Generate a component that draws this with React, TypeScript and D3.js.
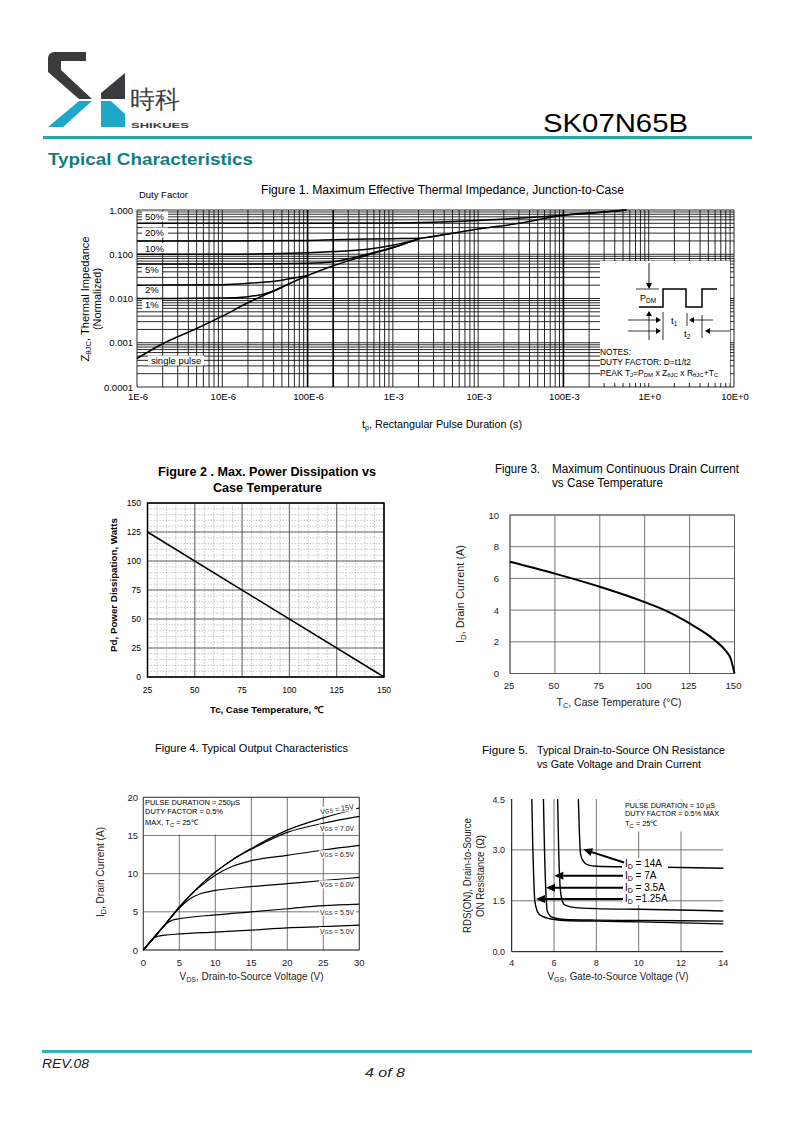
import React, { useEffect } from 'react';
import * as d3 from 'd3';

const FONT = "'Liberation Sans', Arial, Helvetica, sans-serif";

// ---------------- Figure 1 data ----------------
const f1XTickValues = [1e-6, 1e-5, 1e-4, 1e-3, 1e-2, 1e-1, 1, 10];
const f1XTickLabels = ['1E-6', '10E-6', '100E-6', '1E-3', '10E-3', '100E-3', '1E+0', '10E+0'];
const f1YTickValues = [1, 0.1, 0.01, 0.001, 0.0001];
const f1YTickLabels = ['1.000', '0.100', '0.010', '0.001', '0.0001'];
const dutyLabels = ['50%', '20%', '10%', '5%', '2%', '1%', 'single pulse'];
const zSingle: [number, number][] = [[1e-6, 4.4e-4], [2e-6, 9.5e-4], [5e-6, 2.1e-3], [1e-5, 4.0e-3], [2e-5, 8.0e-3], [5e-5, 1.8e-2], [1e-4, 3.3e-2], [2e-4, 5.5e-2], [5e-4, 9.5e-2], [1e-3, 0.14], [2e-3, 0.22], [5e-3, 0.3], [1e-2, 0.37], [3e-2, 0.5], [1e-1, 0.76], [3e-1, 0.9], [5.5e-1, 1.0]];
const z50: [number, number][] = [[1e-6, 0.5], [1e-4, 0.5], [1e-3, 0.51], [1e-2, 0.58], [3e-2, 0.65], [1e-1, 0.76], [3e-1, 0.9], [5.5e-1, 1.0]];
const z20: [number, number][] = [[1e-6, 0.2], [1e-5, 0.2], [1e-4, 0.205], [2e-4, 0.212], [5e-4, 0.22], [1e-3, 0.225], [2e-3, 0.23], [5e-3, 0.3]];
const z10: [number, number][] = [[1e-6, 0.1], [1e-5, 0.1], [1e-4, 0.108], [2e-4, 0.115], [5e-4, 0.13], [1e-3, 0.16], [2e-3, 0.22]];
const z05: [number, number][] = [[1e-6, 0.06], [1e-5, 0.06], [1e-4, 0.063], [2e-4, 0.068], [5e-4, 0.1], [1e-3, 0.142], [2e-3, 0.22]];
const z02: [number, number][] = [[1e-6, 0.02], [1e-5, 0.0205], [2e-5, 0.022], [5e-5, 0.026], [1e-4, 0.033]];
const z01: [number, number][] = [[1e-6, 0.01], [1e-5, 0.0102], [2e-5, 0.011], [3.5e-5, 0.0135], [5e-5, 0.018]];
const f1Series = [z50, z20, z10, z05, z02, z01, zSingle];
const f1HeavyLines = [1e-4, 2e-4, 1e-1];

// ---------------- Figure 2 data ----------------
const f2XTicks = [25, 50, 75, 100, 125, 150];
const f2YTicks = [0, 25, 50, 75, 100, 125, 150];
const pdTemp = [25, 150];
const pdWatts = [125, 0];

// ---------------- Figure 3 data ----------------
const f3XTicks = [25, 50, 75, 100, 125, 150];
const f3YTicks = [0, 2, 4, 6, 8, 10];
const idTemp = [25, 50, 75, 100, 112, 125, 135, 140, 145, 148, 150];
const idCurrent = [7.05, 6.3, 5.47, 4.5, 3.95, 3.16, 2.45, 2.0, 1.45, 0.9, 0];

// ---------------- Figure 4 data ----------------
const f4XTicks = [0, 5, 10, 15, 20, 25, 30];
const f4YTicks = [0, 5, 10, 15, 20];
const vgsLabels = ['15V', '7.0V', '6.5V', '6.0V', '5.5V', '5.0V'];
const out15: [number, number][] = [[0, 0], [1, 1.1], [2, 2.2], [3, 3.3], [5, 5.6], [7.5, 8.1], [10, 10.2], [12.5, 11.9], [15, 13.3], [20, 15.7], [25, 17.3], [30, 18.6]];
const out70: [number, number][] = [[0, 0], [1, 1.1], [2, 2.2], [3, 3.3], [5, 5.6], [7.5, 8.1], [10, 10.2], [12.5, 11.9], [15, 13.2], [20, 15.4], [25, 16.6], [30, 17.5]];
const out65: [number, number][] = [[0, 0], [1, 1.1], [2, 2.2], [3, 3.3], [5, 5.6], [7.5, 8.0], [10, 9.8], [12.5, 11.0], [15, 11.7], [20, 12.4], [25, 13.1], [30, 13.7]];
const out60: [number, number][] = [[0, 0], [1, 1.1], [2, 2.2], [3, 3.3], [5, 5.5], [6.5, 6.7], [8, 7.4], [10, 7.8], [15, 8.3], [20, 8.7], [25, 9.1], [30, 9.5]];
const out55: [number, number][] = [[0, 0], [1, 1.1], [2, 2.2], [3, 3.3], [4, 3.9], [5, 4.1], [10, 4.6], [15, 5.0], [20, 5.4], [25, 5.8], [30, 6.0]];
const out50: [number, number][] = [[0, 0], [1, 1.15], [1.5, 1.6], [2, 1.8], [3, 1.95], [5, 2.1], [10, 2.35], [15, 2.6], [20, 2.9], [25, 3.05], [30, 3.25]];
const f4Series = [out15, out70, out65, out60, out55, out50];

// ---------------- Figure 5 data ----------------
const f5XTicks = [4, 6, 8, 10, 12, 14];
const f5YTicks = [0, 1.5, 3.0, 4.5];
const f5YTickLabels = ['0.0', '1.5', '3.0', '4.5'];
const idLabels = ['ID = 14A', 'ID = 7A', 'ID = 3.5A', 'ID =1.25A'];
const r14: [number, number][] = [[7.15, 4.5], [7.2, 3.5], [7.25, 2.9], [7.35, 2.7], [7.6, 2.56], [8, 2.52], [10, 2.5], [14, 2.46]];
const r7: [number, number][] = [[6.17, 4.5], [6.22, 3.0], [6.28, 2.0], [6.35, 1.6], [6.5, 1.38], [7, 1.3], [8, 1.27], [10, 1.25], [14, 1.2]];
const r35: [number, number][] = [[5.5, 4.5], [5.55, 3.0], [5.62, 1.7], [5.68, 1.2], [5.9, 1.02], [6.5, 0.95], [8, 0.93], [10, 0.92], [14, 0.9]];
const r125: [number, number][] = [[4.95, 4.5], [5.0, 3.0], [5.05, 2.0], [5.1, 1.45], [5.3, 1.1], [5.8, 0.97], [6.5, 0.92], [8, 0.9], [10, 0.88], [14, 0.82]];
const f5Series = [r14, r7, r35, r125];

// ---------------- helpers ----------------
type TP = {
  x: number; y: number; s: number; a?: 'start' | 'middle' | 'end'; w?: string | number; len?: number;
  fill?: string; rot?: boolean; italic?: boolean; children: React.ReactNode;
};
function T({ x, y, s, a = 'start', w = 'normal', len, fill = '#000', rot = false, italic = false, children }: TP) {
  return (
    <text x={x} y={y} fontSize={s} textAnchor={a} fontWeight={w} fill={fill}
      fontStyle={italic ? 'italic' : 'normal'}
      transform={rot ? `rotate(-90 ${x} ${y})` : undefined}
      textLength={len} lengthAdjust={len ? 'spacingAndGlyphs' : undefined}>
      {children}
    </text>
  );
}

function Arrow({ x1, y1, x2, y2, w = 1, head = 6, hw = 3 }: { x1: number; y1: number; x2: number; y2: number; w?: number; head?: number; hw?: number }) {
  const ang = Math.atan2(y2 - y1, x2 - x1);
  const bx = x2 - head * Math.cos(ang);
  const by = y2 - head * Math.sin(ang);
  const px = -Math.sin(ang) * hw;
  const py = Math.cos(ang) * hw;
  return (
    <g>
      <line x1={x1} y1={y1} x2={bx} y2={by} stroke="#000" strokeWidth={w} />
      <polygon points={`${x2},${y2} ${bx + px},${by + py} ${bx - px},${by - py}`} fill="#000" />
    </g>
  );
}

// ---------------- Header ----------------
function Header() {
  const dark = '#3b3b3d';
  const teal = '#1ea7c8';
  return (
    <g>
      <path d="M48,59 Q48,52 55,52 L86,52 L86,61 L61,61 L61,70 L92,99 L79,99 L48,72 Z" fill={dark} />
      <path d="M101,93 L125,73 L125,99 L101,99 Z" fill={dark} />
      <path d="M79,101 L92,101 L63,127 L48,127 Z" fill={teal} />
      <path d="M101,101 L111,101 L125,114 L125,127 L101,127 Z" fill={teal} />
      <T x={130} y={108} s={25} fill={dark}>時科</T>
      <T x={131} y={128} s={7.5} w="bold" fill={dark} len={58}>SHIKUES</T>
      <T x={543} y={132} s={26} len={145}>SK07N65B</T>
      <line x1={43} y1={137.5} x2={752} y2={137.5} stroke="#2aa8a8" strokeWidth={3} />
      <T x={48} y={165} s={17} w="bold" fill="#117f80" len={205}>Typical Characteristics</T>
    </g>
  );
}

function Footer() {
  return (
    <g>
      <line x1={42} y1={1051.5} x2={752} y2={1051.5} stroke="#36b0b0" strokeWidth={3} />
      <T x={42} y={1068} s={13} italic len={47} fill="#222">REV.08</T>
      <T x={385} y={1076.5} s={13} italic a="middle" len={40} fill="#222">4 of 8</T>
    </g>
  );
}

// ---------------- Figure 1 ----------------
function Fig1() {
  const x = d3.scaleLog().domain([1e-6, 10]).range([137, 734]);
  const y = d3.scaleLog().domain([1e-4, 1]).range([387, 210]);
  const vLines: number[] = [];
  for (let e = -6; e <= 0; e++) for (let k = 1; k <= 9; k++) vLines.push(k * Math.pow(10, e));
  vLines.push(10);
  const hLines: number[] = [];
  for (let e = -4; e <= -1; e++) for (let k = 1; k <= 9; k++) hLines.push(k * Math.pow(10, e));
  hLines.push(1);
  const line = d3.line<[number, number]>().x(d => x(d[0])).y(d => y(d[1])).curve(d3.curveMonotoneX);
  const labelY = [217, 233, 248.5, 270, 289.5, 305, 361];
  const labelX = [145, 145, 145, 145, 145, 145, 151];
  const labelW = [22, 22, 22, 16, 16, 16, 52];
  return (
    <g>
      <T x={139} y={197.5} s={9.5} len={49}>Duty Factor</T>
      <T x={442.5} y={194} s={12} a="middle" len={363}>Figure 1. Maximum Effective Thermal Impedance, Junction-to-Case</T>
      {vLines.map((v, i) => (
        <line key={'v' + i} x1={x(v)} x2={x(v)} y1={y(1)} y2={y(1e-4)} stroke="#111" strokeWidth={0.9} />
      ))}
      {hLines.map((v, i) => (
        <line key={'h' + i} x1={x(1e-6)} x2={x(10)} y1={y(v)} y2={y(v)} stroke="#111" strokeWidth={0.9} />
      ))}
      {f1HeavyLines.map((v, i) => (
        <line key={'hv' + i} x1={x(v)} x2={x(v)} y1={y(1)} y2={y(1e-4)} stroke="#000" strokeWidth={1.6} />
      ))}
      {/* inset box */}
      <rect x={600} y={261} width={130} height={122} fill="#fff" />
      {dutyLabels.map((l, i) => (
        <g key={'dl' + i}>
          <rect x={labelX[i] - 3} y={labelY[i] - 5.5} width={labelW[i] + 4} height={10} fill="#fff" />
          <T x={labelX[i]} y={labelY[i] + 3.4} s={9.5}>{l}</T>
        </g>
      ))}
      {f1Series.map((s, i) => (
        <path key={'c' + i} d={line(s) || ''} fill="none" stroke="#000" strokeWidth={1.5} />
      ))}
      {f1YTickValues.map((v, i) => (
        <T key={'yt' + i} x={133} y={y(v) + 3.5} s={9.5} a="end">{f1YTickLabels[i]}</T>
      ))}
      {f1XTickValues.map((v, i) => (
        <T key={'xt' + i} x={x(v) + 1} y={400} s={9.5} a="middle">{f1XTickLabels[i]}</T>
      ))}
      <text x={89} y={299} fontSize={10} textAnchor="middle" transform="rotate(-90 89 299)" textLength={125} lengthAdjust="spacingAndGlyphs">
        Z<tspan fontSize={7} dy={2}>θJC</tspan><tspan dy={-2}>, Thermal Impedance</tspan>
      </text>
      <T x={101} y={299} s={10} a="middle" rot len={62}>(Normalized)</T>
      <text x={442} y={428} fontSize={10.5} textAnchor="middle" textLength={160} lengthAdjust="spacingAndGlyphs">
        t<tspan fontSize={7} dy={2}>p</tspan><tspan dy={-2}>, Rectangular Pulse Duration (s)</tspan>
      </text>
      {/* inset diagram */}
      <Arrow x1={649} y1={263} x2={649} y2={289} w={0.9} head={6} hw={3} />
      <line x1={636} y1={289} x2={659} y2={289} stroke="#000" strokeWidth={0.8} />
      <text x={640} y={301} fontSize={9}>P<tspan fontSize={6.5} dy={1.5}>DM</tspan></text>
      <polyline points="639,307 663,307 663,289 686,289 686,307 702,307 702,289 717,289" fill="none" stroke="#000" strokeWidth={1.5} />
      <Arrow x1={649} y1={340} x2={649} y2={311} w={0.8} head={5} hw={3} />
      <Arrow x1={628} y1={320} x2={661} y2={320} w={0.8} head={5} hw={3} />
      <line x1={663} y1={312} x2={663} y2={340} stroke="#000" strokeWidth={0.8} />
      <text x={671} y={324} fontSize={9.5}>t<tspan fontSize={6.5} dy={1.5}>1</tspan></text>
      <Arrow x1={713} y1={320} x2={689} y2={320} w={0.8} head={5} hw={3} />
      <line x1={687} y1={313} x2={687} y2={326} stroke="#000" strokeWidth={0.8} />
      <Arrow x1={628} y1={331} x2={661} y2={331} w={0.8} head={5} hw={3} />
      <text x={684} y={337} fontSize={9.5}>t<tspan fontSize={6.5} dy={1.5}>2</tspan></text>
      <line x1={702} y1={315} x2={702} y2={338} stroke="#000" strokeWidth={0.8} />
      <Arrow x1={730} y1={331} x2={705} y2={331} w={0.8} head={5} hw={3} />
      <T x={600} y={355} s={8.5} len={31}>NOTES:</T>
      <text x={600} y={365} fontSize={8.5} textLength={91} lengthAdjust="spacingAndGlyphs">DUTY FACTOR: D=t1/t2</text>
      <text x={600} y={375.5} fontSize={8.5}>
        PEAK T<tspan fontSize={6} dy={1.5}>J</tspan><tspan dy={-1.5}>=P</tspan><tspan fontSize={6} dy={1.5}>DM</tspan><tspan dy={-1.5}> x Z</tspan><tspan fontSize={6} dy={1.5}>θJC</tspan><tspan dy={-1.5}> x R</tspan><tspan fontSize={6} dy={1.5}>θJC</tspan><tspan dy={-1.5}>+T</tspan><tspan fontSize={6} dy={1.5}>C</tspan>
      </text>
    </g>
  );
}

// ---------------- Figure 2 ----------------
function Fig2() {
  const x = d3.scaleLinear().domain([25, 150]).range([147.5, 384]);
  const y = d3.scaleLinear().domain([0, 150]).range([677, 503]);
  const minorX = d3.range(25, 151, 5);
  const minorY = d3.range(0, 151, 5);
  const line = d3.line<number>().x((_, i) => x(pdTemp[i])).y((_, i) => y(pdWatts[i]));
  return (
    <g>
      <T x={267} y={476} s={13} w="bold" a="middle" len={218}>Figure 2 . Max. Power Dissipation vs</T>
      <T x={267.5} y={492} s={13} w="bold" a="middle" len={109}>Case Temperature</T>
      {minorX.map((v, i) => <line key={'mx' + i} x1={x(v)} x2={x(v)} y1={y(150)} y2={y(0)} stroke="#a0a0a0" strokeWidth={0.6} strokeDasharray="1.5,1.5" />)}
      {minorY.map((v, i) => <line key={'my' + i} x1={x(25)} x2={x(150)} y1={y(v)} y2={y(v)} stroke="#a0a0a0" strokeWidth={0.6} strokeDasharray="1.5,1.5" />)}
      {f2XTicks.map((v, i) => <line key={'Mx' + i} x1={x(v)} x2={x(v)} y1={y(150)} y2={y(0)} stroke="#444" strokeWidth={0.8} />)}
      {f2YTicks.map((v, i) => <line key={'My' + i} x1={x(25)} x2={x(150)} y1={y(v)} y2={y(v)} stroke="#444" strokeWidth={0.8} />)}
      <rect x={x(25)} y={y(150)} width={x(150) - x(25)} height={y(0) - y(150)} fill="none" stroke="#000" strokeWidth={1.5} />
      <path d={line(pdWatts) || ''} fill="none" stroke="#000" strokeWidth={1.5} />
      {f2XTicks.map((v, i) => <T key={'xt' + i} x={x(v)} y={692.5} s={8.5} a="middle">{v}</T>)}
      {f2YTicks.map((v, i) => <T key={'yt' + i} x={141} y={y(v) + 3} s={8.5} a="end">{v}</T>)}
      <T x={116.5} y={585} s={9.5} w="bold" a="middle" rot len={134}>Pd, Power Dissipation, Watts</T>
      <T x={266.5} y={712.5} s={9.5} w="bold" a="middle" len={113}>Tc, Case Temperature, ℃</T>
    </g>
  );
}

// ---------------- Figure 3 ----------------
function Fig3() {
  const x = d3.scaleLinear().domain([25, 150]).range([510, 734.5]);
  const y = d3.scaleLinear().domain([0, 10]).range([673.5, 515]);
  const line = d3.line<number>().x((_, i) => x(idTemp[i])).y((_, i) => y(idCurrent[i])).curve(d3.curveMonotoneX);
  return (
    <g>
      <T x={495} y={472.5} s={12} len={45}>Figure 3.</T>
      <T x={552} y={472.5} s={12} len={187}>Maximum Continuous Drain Current</T>
      <T x={552} y={486.5} s={12} len={111}>vs Case Temperature</T>
      {f3XTicks.map((v, i) => <line key={'gx' + i} x1={x(v)} x2={x(v)} y1={y(10)} y2={y(0)} stroke="#555" strokeWidth={0.8} />)}
      {f3YTicks.map((v, i) => <line key={'gy' + i} x1={x(25)} x2={x(150)} y1={y(v)} y2={y(v)} stroke="#555" strokeWidth={0.8} />)}
      <rect x={x(25)} y={y(10)} width={x(150) - x(25)} height={y(0) - y(10)} fill="none" stroke="#555" strokeWidth={0.9} />
      <path d={line(idCurrent) || ''} fill="none" stroke="#000" strokeWidth={2} />
      {f3XTicks.map((v, i) => <T key={'xt' + i} x={x(v) - 1} y={689} s={9.5} a="middle" fill="#222">{v}</T>)}
      {f3YTicks.map((v, i) => <T key={'yt' + i} x={499} y={y(v) + 3.5} s={9.5} a="end" fill="#222">{v}</T>)}
      <text x={463.5} y={594} fontSize={10.5} textAnchor="middle" fill="#222" transform="rotate(-90 463.5 594)" textLength={98} lengthAdjust="spacingAndGlyphs">
        I<tspan fontSize={7.5} dy={2}>D</tspan><tspan dy={-2}>, Drain Current (A)</tspan>
      </text>
      <text x={619} y={705.5} fontSize={10.5} textAnchor="middle" fill="#222" textLength={125} lengthAdjust="spacingAndGlyphs">
        T<tspan fontSize={7.5} dy={2}>C</tspan><tspan dy={-2}>, Case Temperature (°C)</tspan>
      </text>
    </g>
  );
}

// ---------------- Figure 4 ----------------
function Fig4() {
  const x = d3.scaleLinear().domain([0, 30]).range([143.3, 359.3]);
  const y = d3.scaleLinear().domain([0, 20]).range([950, 797.3]);
  const line = d3.line<[number, number]>().x(d => x(d[0])).y(d => y(d[1])).curve(d3.curveMonotoneX);
  const labY = [809, 828.3, 854.3, 884.3, 911.7, 931];
  return (
    <g>
      <T x={251.5} y={752} s={11} a="middle" len={193}>Figure 4. Typical Output Characteristics</T>
      {f4XTicks.map((v, i) => <line key={'gx' + i} x1={x(v)} x2={x(v)} y1={y(20)} y2={y(0)} stroke="#555" strokeWidth={0.8} />)}
      {f4YTicks.map((v, i) => <line key={'gy' + i} x1={x(0)} x2={x(30)} y1={y(v)} y2={y(v)} stroke="#555" strokeWidth={0.8} />)}
      <rect x={x(0) + 0.6} y={y(20) + 0.6} width={101} height={y(15) - y(20) - 1.6} fill="#fff" />
      <rect x={x(0)} y={y(20)} width={x(30) - x(0)} height={y(0) - y(20)} fill="none" stroke="#444" strokeWidth={0.9} />
      {f4Series.map((s, i) => <path key={'c' + i} d={line(s) || ''} fill="none" stroke="#000" strokeWidth={1.2} />)}
      {vgsLabels.map((l, i) => (
        <g key={'vl' + i} transform={i === 0 ? `rotate(-9 337 ${labY[i]})` : undefined}>
          <rect x={319} y={labY[i] - 4} width={37} height={8} fill="#fff" />
          <text x={320} y={labY[i] + 2.8} fontSize={7.5} textLength={34} lengthAdjust="spacingAndGlyphs" fill="#222">
            V<tspan fontSize={6}>GS</tspan> = {l}
          </text>
        </g>
      ))}
      <T x={145} y={804.5} s={7.5} len={95}>PULSE DURATION = 250µS</T>
      <T x={145} y={814} s={7.5} len={78}>DUTY FACTOR = 0.5%</T>
      <text x={145} y={825} fontSize={7.5}>MAX, T<tspan fontSize={5.5} dy={1.5}>C</tspan><tspan dy={-1.5}> = 25℃</tspan></text>
      {f4XTicks.map((v, i) => <T key={'xt' + i} x={x(v)} y={965.5} s={9.5} a="middle" fill="#222">{v}</T>)}
      {f4YTicks.map((v, i) => <T key={'yt' + i} x={138} y={y(v) + 3.5} s={9.5} a="end" fill="#222">{v}</T>)}
      <text x={104} y={872} fontSize={10.5} textAnchor="middle" fill="#222" transform="rotate(-90 104 872)" textLength={90} lengthAdjust="spacingAndGlyphs">
        I<tspan fontSize={7.5} dy={2}>D</tspan><tspan dy={-2}>, Drain Current (A)</tspan>
      </text>
      <text x={251.5} y={979.5} fontSize={10.5} textAnchor="middle" fill="#222" textLength={144} lengthAdjust="spacingAndGlyphs">
        V<tspan fontSize={7.5} dy={2}>DS</tspan><tspan dy={-2}>, Drain-to-Source Voltage (V)</tspan>
      </text>
    </g>
  );
}

// ---------------- Figure 5 ----------------
function Fig5() {
  const x = d3.scaleLinear().domain([4, 14]).range([511.7, 723.3]);
  const y = d3.scaleLinear().domain([0, 4.5]).range([951.7, 799]);
  const line = d3.line<[number, number]>().x(d => x(d[0])).y(d => y(d[1])).curve(d3.curveMonotoneX);
  const labY = [867, 879, 890.5, 902];
  const arrowTip: [number, number][] = [[583.3, 849.3], [554.3, 875.7], [546, 887.7], [536, 899]];
  const arrowStart: [number, number][] = [[624, 862.5], [623, 875.7], [623, 887.7], [623, 899]];
  return (
    <g>
      <T x={482} y={754} s={11} len={46}>Figure 5.</T>
      <T x={537} y={754} s={11} len={188}>Typical Drain-to-Source ON Resistance</T>
      <T x={537} y={768} s={11} len={164}>vs Gate Voltage and Drain Current</T>
      {f5XTicks.slice(1, 5).map((v, i) => <line key={'gx' + i} x1={x(v)} x2={x(v)} y1={y(4.5)} y2={y(0)} stroke="#555" strokeWidth={0.8} />)}
      {f5YTicks.slice(1, 3).map((v, i) => <line key={'gy' + i} x1={x(4)} x2={x(14)} y1={y(v)} y2={y(v)} stroke="#555" strokeWidth={0.8} />)}
      <rect x={622} y={799.5} width={100} height={32} fill="#fff" />
      {f5Series.map((s, i) => <path key={'c' + i} d={line(s) || ''} fill="none" stroke="#000" strokeWidth={1.4} />)}
      <rect x={622} y={858} width={46} height={47} fill="#fff" />
      <line x1={x(4)} x2={x(4)} y1={y(4.5)} y2={y(0)} stroke="#000" strokeWidth={1} />
      <line x1={x(4)} x2={x(14)} y1={y(0)} y2={y(0)} stroke="#000" strokeWidth={1} />
      {idLabels.map((l, i) => (
        <text key={'il' + i} x={625} y={labY[i]} fontSize={10}>
          I<tspan fontSize={7} dy={2}>D</tspan><tspan dy={-2}>{l.slice(2)}</tspan>
        </text>
      ))}
      {arrowTip.map((p, i) => (
        <Arrow key={'ar' + i} x1={arrowStart[i][0]} y1={arrowStart[i][1]} x2={p[0]} y2={p[1]} w={2} head={9} hw={4} />
      ))}
      <T x={625} y={807.5} s={7.5} len={90}>PULSE DURATION = 10 µS</T>
      <T x={625} y={816} s={7.5} len={94}>DUTY FACTOR = 0.5% MAX</T>
      <text x={625} y={826} fontSize={7.5}>T<tspan fontSize={5.5} dy={1.5}>C</tspan><tspan dy={-1.5}> = 25℃</tspan></text>
      {f5XTicks.map((v, i) => <T key={'xt' + i} x={x(v)} y={965.5} s={9} a="middle" fill="#222">{v}</T>)}
      {f5YTicks.map((v, i) => <T key={'yt' + i} x={505} y={y(v) + 3.5} s={9} a="end" fill="#222">{f5YTickLabels[i]}</T>)}
      <text x={470.5} y={875.5} fontSize={10} textAnchor="middle" fill="#222" transform="rotate(-90 470.5 875.5)" textLength={115} lengthAdjust="spacingAndGlyphs">RDS(ON), Drain-to-Source</text>
      <text x={483.5} y={876} fontSize={10} textAnchor="middle" fill="#222" transform="rotate(-90 483.5 876)" textLength={82} lengthAdjust="spacingAndGlyphs">ON Resistance (Ω)</text>
      <text x={618} y={979.5} fontSize={10.5} textAnchor="middle" fill="#222" textLength={141} lengthAdjust="spacingAndGlyphs">
        V<tspan fontSize={7.5} dy={2}>GS</tspan><tspan dy={-2}>, Gate-to-Source Voltage (V)</tspan>
      </text>
    </g>
  );
}

export default function App() {
  useEffect(() => { document.body.style.margin = '0'; }, []);
  return (
    <svg width={800} height={1132} viewBox="0 0 800 1132" fontFamily={FONT}
      style={{ position: 'absolute', left: 0, top: 0, background: '#fff', display: 'block' }}>
      <rect x={0} y={0} width={800} height={1132} fill="#fff" />
      <Header />
      <Fig1 />
      <Fig2 />
      <Fig3 />
      <Fig4 />
      <Fig5 />
      <Footer />
    </svg>
  );
}
